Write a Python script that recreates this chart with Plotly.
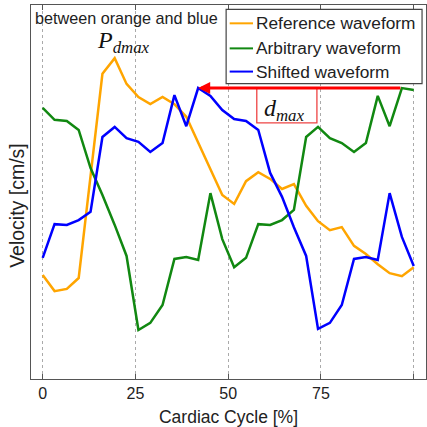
import plotly.graph_objects as go

# Cardiac cycle positions [%] (32 samples)
cycle = [0.0, 3.2, 6.5, 9.7, 12.9, 16.1, 19.4, 22.6, 25.8, 29.0, 32.3, 35.5, 38.7, 41.9, 45.2, 48.4,
         51.6, 54.8, 58.1, 61.3, 64.5, 67.7, 71.0, 74.2, 77.4, 80.6, 83.9, 87.1, 90.3, 93.5, 96.8, 100.0]

# Velocity values (arbitrary scale)
reference = [27.8, 23.5, 24.1, 27.0, 54.3, 81.6, 85.8, 78.9, 75.4, 73.5, 75.4, 73.5, 70.1, 63.1, 55.9, 49.2,
             46.8, 52.9, 55.3, 53.5, 50.8, 52.1, 46.3, 42.2, 39.8, 40.6, 35.6, 33.4, 30.7, 28.3, 27.5, 29.9]
arbitrary = [72.5, 69.3, 69.0, 66.6, 56.4, 49.2, 41.2, 32.9, 13.1, 15.0, 19.8, 32.1, 32.6, 31.8, 49.7, 37.4,
             29.9, 32.4, 41.4, 41.2, 42.5, 45.2, 64.7, 67.4, 64.4, 63.1, 60.7, 63.1, 75.7, 67.6, 77.8, 77.3]
shifted = [32.4, 41.4, 41.2, 42.5, 44.7, 64.7, 67.4, 64.4, 63.4, 60.7, 63.1, 75.9, 67.6, 77.8, 75.7, 71.9,
           69.5, 69.0, 66.6, 55.1, 48.7, 40.6, 32.9, 13.4, 15.0, 19.8, 32.1, 32.6, 31.8, 49.7, 38.0, 30.2]

series_names = ["Reference waveform", "Arbitrary waveform", "Shifted waveform"]
series_colors = ["#FFA500", "#118811", "#0000FF"]
x_ticks = [0, 25, 50, 75, 100]

FONT = "Liberation Sans, Arial, sans-serif"
SERIF = "Liberation Serif, Times New Roman, serif"

fig = go.Figure()
for name, vals, col in zip(series_names, [reference, arbitrary, shifted], series_colors):
    fig.add_trace(go.Scatter(x=cycle, y=vals, mode="lines", name=name,
                             line=dict(color=col, width=2.5), showlegend=False))

# d_max arrow: from arbitrary peak back to shifted peak
i_tip = shifted.index(max(shifted))
i_tail = arbitrary.index(max(arbitrary))
y_arrow = max(shifted)
fig.add_annotation(x=cycle[i_tip], y=y_arrow, ax=cycle[i_tail], ay=y_arrow,
                   xref="x", yref="y", axref="x", ayref="y", text="",
                   showarrow=True, arrowhead=2, arrowsize=0.8, arrowwidth=3,
                   arrowcolor="#FF0000", standoff=0)

# d_max label box
fig.add_shape(type="rect", xref="x", yref="y", x0=57.7, x1=73.9, y0=68.5, y1=y_arrow,
              line=dict(color="#EE4444", width=1.3), fillcolor="rgba(0,0,0,0)")
fig.add_annotation(x=65.3, y=71.9, xref="x", yref="y", xanchor="center", yanchor="middle",
                   text="<i>d<sub>max</sub></i>", showarrow=False,
                   font=dict(family=SERIF, size=24, color="#111"))

# P_dmax label and note
fig.add_annotation(x=0.163, y=0.947, xref="paper", yref="paper", xanchor="left", yanchor="top",
                   text="<i>P<sub>dmax</sub></i>", showarrow=False,
                   font=dict(family=SERIF, size=24, color="#111"))
fig.add_annotation(x=0.004, y=0.966, xref="paper", yref="paper", xanchor="left", yanchor="middle",
                   text="between orange and blue", showarrow=False,
                   font=dict(family=FONT, size=16.2, color="#222"))

# Manual legend (box, line samples, labels)
lx0, lx1, ly1, ly0 = 0.494, 0.990, 0.9885, 0.79
fig.add_shape(type="rect", xref="paper", yref="paper", x0=lx0, x1=lx1, y0=ly0, y1=ly1,
              line=dict(color="#444", width=1.2), fillcolor="white", layer="above")
row_y = [0.951, 0.884, 0.822]
for name, col, ry in zip(series_names, series_colors, row_y):
    fig.add_shape(type="line", xref="paper", yref="paper", x0=0.503, x1=0.562, y0=ry, y1=ry,
                  line=dict(color=col, width=2), layer="above")
    fig.add_annotation(x=0.565, y=ry, xref="paper", yref="paper", xanchor="left", yanchor="middle",
                       text=name, showarrow=False, font=dict(family=FONT, size=17.3, color="#222"))

# Y-axis title
fig.add_annotation(x=-0.036, y=0.465, xref="paper", yref="paper", xanchor="center", yanchor="middle",
                   text="Velocity [cm/s]", textangle=-90, showarrow=False,
                   font=dict(family=FONT, size=19.5, color="#222"))

fig.update_layout(
    width=427, height=427,
    margin=dict(l=31, r=1, t=5, b=48),
    paper_bgcolor="white", plot_bgcolor="white",
    font=dict(family=FONT, color="#222"),
    xaxis=dict(range=[-3.15, 103.3], tickvals=x_ticks, ticktext=[str(t) for t in x_ticks],
               showgrid=True, gridcolor="#AAAAAA", griddash="dot", gridwidth=1,
               zeroline=False, showline=True, linecolor="#555", linewidth=1.3, mirror="ticks",
               ticks="inside", ticklen=5, tickcolor="#555",
               tickfont=dict(family=FONT, size=16, color="#222"),
               title=dict(text="Cardiac Cycle [%]", font=dict(family=FONT, size=17.5, color="#222"),
                          standoff=11)),
    yaxis=dict(range=[0, 100], showticklabels=False, ticks="", showgrid=False, zeroline=False,
               showline=True, linecolor="#555", linewidth=1.3, mirror=True),
)

fig.write_html("out.html", config={"displayModeBar": False},
               post_script="document.body.style.margin='0';document.body.style.overflow='hidden';")
